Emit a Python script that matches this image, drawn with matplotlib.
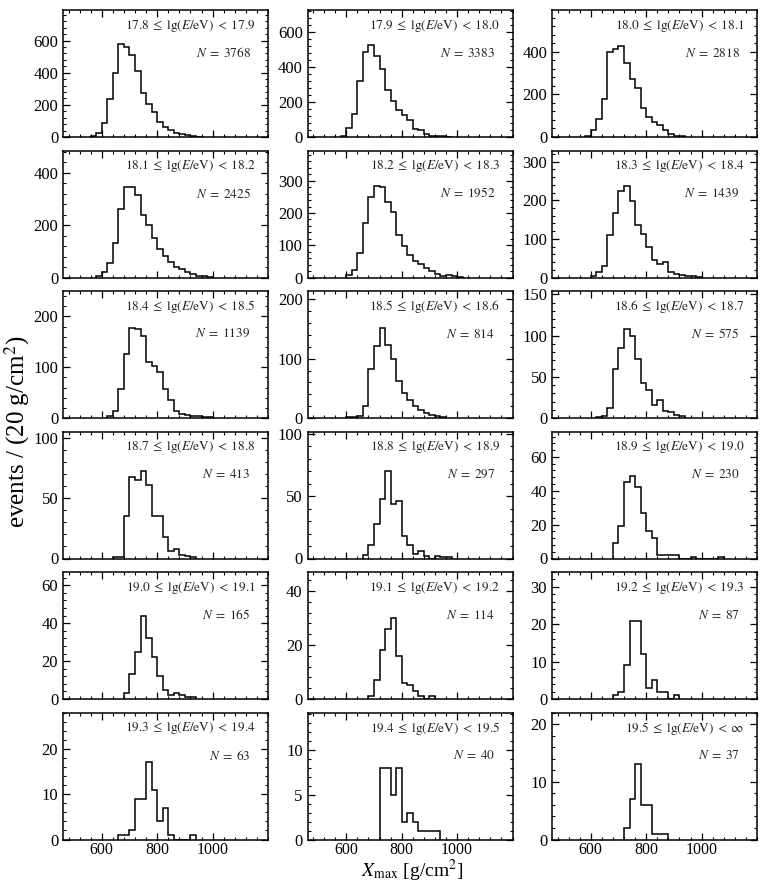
import matplotlib
matplotlib.use("Agg")

import matplotlib.pyplot as plt
from matplotlib.ticker import MultipleLocator, AutoMinorLocator

plt.rcParams["font.family"] = "Liberation Serif"
plt.rcParams["mathtext.fontset"] = "stix"

# Xmax histograms, 20 g/cm^2 bins, one list per energy bin
bin_width = 20
lg_e_low = ["17.8", "17.9", "18.0", "18.1", "18.2", "18.3", "18.4", "18.5", "18.6",
            "18.7", "18.8", "18.9", "19.0", "19.1", "19.2", "19.3", "19.4", "19.5"]
lg_e_high = ["17.9", "18.0", "18.1", "18.2", "18.3", "18.4", "18.5", "18.6", "18.7",
             "18.8", "18.9", "19.0", "19.1", "19.2", "19.3", "19.4", "19.5", r"\infty"]
n_events = [3768, 3383, 2818, 2425, 1952, 1439, 1139, 814, 575,
            413, 297, 230, 165, 114, 87, 63, 40, 37]
first_edge = [560, 580, 580, 580, 600, 600, 620, 600, 620,
              640, 660, 680, 680, 680, 680, 660, 720, 720]

h178 = [4, 25, 88, 238, 396, 579, 562, 512, 410, 272, 204, 156, 95, 63, 46, 27, 19, 10, 6, 3]
h179 = [8, 51, 133, 318, 486, 524, 461, 385, 270, 206, 156, 124, 99, 48, 42, 15, 8, 6, 4, 2]
h180 = [5, 31, 83, 177, 397, 411, 428, 345, 270, 229, 136, 94, 71, 58, 31, 13, 6, 3]
h181 = [6, 22, 56, 131, 262, 347, 344, 316, 240, 200, 150, 110, 82, 58, 42, 33, 22, 12, 7, 4, 2]
h182 = [8, 24, 77, 170, 249, 283, 282, 233, 203, 131, 97, 70, 52, 42, 29, 20, 11, 6, 8, 5, 2]
h183 = [4, 14, 30, 109, 167, 225, 236, 199, 137, 112, 79, 45, 35, 39, 15, 9, 6, 3, 4, 2]
h184 = [3, 13, 58, 126, 177, 176, 162, 111, 103, 90, 58, 36, 13, 8, 5, 4, 3, 2, 1]
h185 = [2, 2, 3, 20, 83, 122, 152, 123, 100, 62, 42, 31, 20, 13, 8, 5, 3, 2]
h186 = [1, 2, 12, 59, 85, 108, 100, 71, 43, 34, 16, 22, 9, 7, 4, 2]
h187 = [1, 1, 35, 67, 65, 72, 61, 35, 35, 18, 6, 8, 3, 2, 1]
h188 = [3, 11, 28, 48, 70, 44, 46, 18, 11, 4, 6, 2, 0, 2, 1, 1]
h189 = [9, 19, 45, 49, 42, 27, 16, 12, 2, 2, 2, 2, 0, 0, 1, 0, 0, 0, 0, 1]
h190 = [3, 13, 25, 44, 32, 22, 12, 5, 2, 3, 2, 1, 1]
h191 = [1, 7, 18, 26, 30, 16, 6, 5, 3, 1, 0, 1]
h192 = [1, 2, 9, 21, 21, 12, 3, 5, 2, 2, 0, 1]
h193 = [1, 1, 2, 9, 9, 17, 11, 4, 7, 1, 0, 0, 0, 1]
h194 = [8, 8, 5, 8, 2, 3, 2, 1, 1, 1, 1]
h195 = [2, 7, 13, 6, 6, 1, 1, 1]

counts = [h178, h179, h180, h181, h182, h183, h184, h185, h186,
          h187, h188, h189, h190, h191, h192, h193, h194, h195]

# y-axis top and major tick step per panel
y_top = [790, 724, 596, 485, 394, 329, 250, 214, 154,
         105, 102, 75, 67, 47, 34, 28, 14.2, 22]
y_step = [200, 200, 200, 200, 100, 100, 100, 100, 50,
          50, 50, 20, 20, 20, 10, 10, 5, 10]
x_ticks = [600, 800, 1000]

# layout in pixels of the 765x884 figure
W, H = 765, 884
col_left = [63, 307.5, 552]
row_top = [10, 150.5, 291, 431.5, 572, 712.5]
ax_w, ax_h = 205, 127

fig = plt.figure(figsize=(W / 100, H / 100), dpi=100)

for i in range(18):
    r, c = divmod(i, 3)
    ax = fig.add_axes([col_left[c] / W, 1 - (row_top[r] + ax_h) / H, ax_w / W, ax_h / H])

    vals = counts[i]
    edges = [first_edge[i] + bin_width * k for k in range(len(vals) + 1)]
    ax.stairs(vals, edges, baseline=0, color="black", lw=1.1)

    ax.set_xlim(460, 1200)
    ax.set_ylim(0, y_top[i])
    ax.set_xticks(x_ticks)
    ax.xaxis.set_minor_locator(MultipleLocator(40))
    ax.yaxis.set_major_locator(MultipleLocator(y_step[i]))
    ax.yaxis.set_minor_locator(AutoMinorLocator(5))
    ax.tick_params(which="both", direction="in", top=True, right=True, labelsize=12)
    ax.tick_params(which="major", length=5, width=0.9)
    ax.tick_params(which="minor", length=2.5, width=0.8)
    ax.tick_params(axis="x", pad=2, labelsize=11.5)
    if r < 5:
        ax.tick_params(labelbottom=False)
    for sp in ax.spines.values():
        sp.set_linewidth(1.1)

    ax.text(0.94, 0.875,
            rf"${lg_e_low[i]}\;\leq\;\mathrm{{lg}}(E/\mathrm{{eV}})\;<\;{lg_e_high[i]}$",
            transform=ax.transAxes, ha="right", va="center", fontsize=9.5, color="#222222")
    ax.text(0.915, 0.66, rf"$N\;=\;{n_events[i]}$",
            transform=ax.transAxes, ha="right", va="center", fontsize=9.5, color="#222222")

fig.text(17 / W, 1 - 432 / H, r"events / (20 g/cm$^2$)", rotation=90,
         ha="center", va="center", fontsize=18)
fig.text(412 / W, 0.5 / H, r"$X_{\mathrm{max}}$ [g/cm$^2$]",
         ha="center", va="bottom", fontsize=14)

fig.savefig("out.png", dpi=100)
